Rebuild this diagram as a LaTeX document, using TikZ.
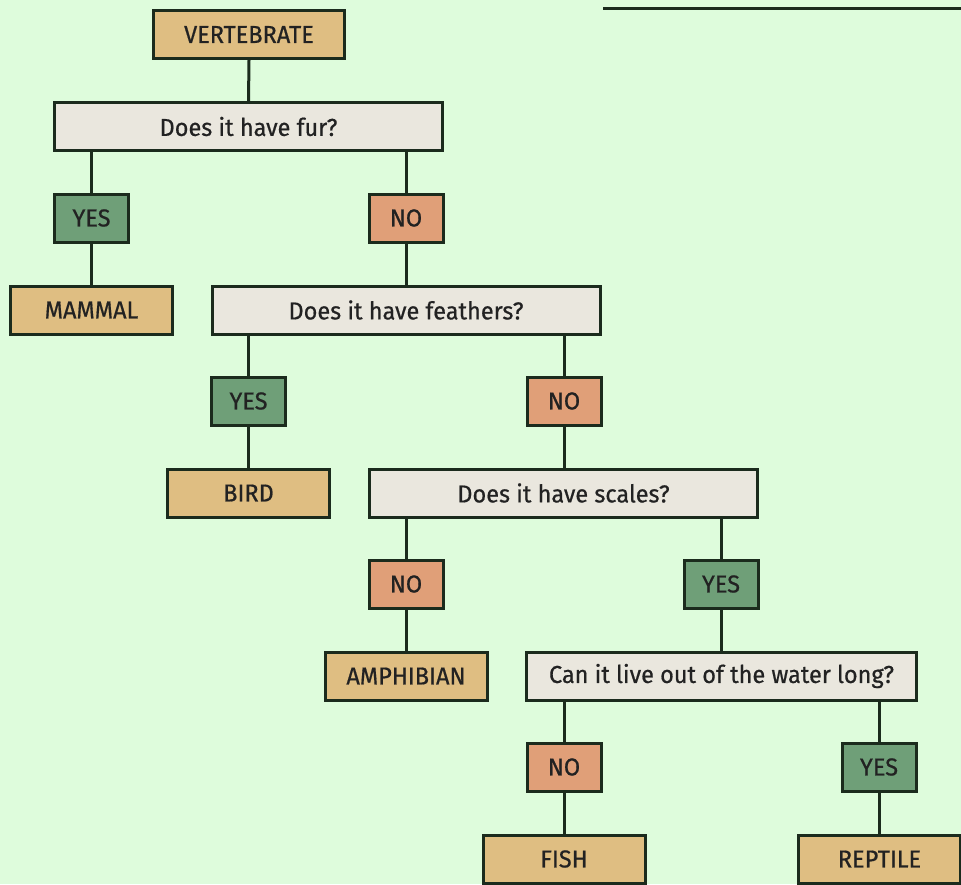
\documentclass[tikz,border=0pt]{standalone}
\usepackage{fontspec}
\setmainfont[FakeStretch=0.96,FakeBold=0.6]{Fira Sans}
\definecolor{bgc}{HTML}{DEFCDC}
\definecolor{tanc}{HTML}{DFBE82}
\definecolor{qc}{HTML}{EAE7DE}
\definecolor{yesc}{HTML}{6F9F78}
\definecolor{noc}{HTML}{E09F78}
\definecolor{edgec}{HTML}{1B2B1D}
\definecolor{txtc}{HTML}{222222}
\begin{document}
\begin{tikzpicture}[x=1pt,y=-1pt,
  box/.style={draw=edgec,line width=3pt,inner sep=0pt,minimum height=48pt,text=txtc,font=\fontsize{24.5}{28}\selectfont},
  leaf/.style={box,fill=tanc,minimum width=162pt},
  ques/.style={box,fill=qc,minimum width=388pt},
  yesbox/.style={box,fill=yesc,minimum width=74pt},
  nobox/.style={box,fill=noc,minimum width=74pt},
  link/.style={draw=edgec,line width=3pt}]
\useasboundingbox (0,0) rectangle (961,884);
\clip (0,0) rectangle (961,884);
\fill[bgc] (0,0) rectangle (961,884);
\coordinate (la) at (603,8);
\coordinate (lb) at (961,8);
\draw[line width=3pt,draw=edgec] (la) -- (lb);
% nodes
\node[leaf,minimum width=191pt] (vert) at (249,34.5) {VERTEBRATE};
\node[ques] (q1) at (248.5,126.5) {Does it have fur?};
\node[yesbox] (y1) at (91.5,218) {YES};
\node[nobox] (n1) at (406,218) {NO};
\node[leaf] (mammal) at (91.5,310) {MAMMAL};
\node[ques] (q2) at (406,310) {Does it have feathers?};
\node[yesbox] (y2) at (248.5,401) {YES};
\node[nobox] (n2) at (564,401) {NO};
\node[leaf] (bird) at (248.5,493) {BIRD};
\node[ques] (q3) at (563.5,493) {Does it have scales?};
\node[nobox] (n3) at (406,584) {NO};
\node[yesbox] (y3) at (721,584) {YES};
\node[leaf] (amph) at (406,676) {AMPHIBIAN};
\node[ques,minimum width=390pt] (q4) at (721.5,676) {Can it live out of the water long?};
\node[nobox] (n4) at (564,767) {NO};
\node[yesbox] (y4) at (879,767) {YES};
\node[leaf] (fish) at (564,859) {FISH};
\node[leaf] (rept) at (879.5,859) {REPTILE};
% connectors
\draw[link] (vert.south) -- (q1.north);
\draw[link] (q1.south -| y1.north) -- (y1.north);
\draw[link] (q1.south -| n1.north) -- (n1.north);
\draw[link] (y1.south) -- (mammal.north);
\draw[link] (n1.south) -- (q2.north);
\draw[link] (q2.south -| y2.north) -- (y2.north);
\draw[link] (q2.south -| n2.north) -- (n2.north);
\draw[link] (y2.south) -- (bird.north);
\draw[link] (n2.south) -- (q3.north -| n2.south);
\draw[link] (q3.south -| n3.north) -- (n3.north);
\draw[link] (q3.south -| y3.north) -- (y3.north);
\draw[link] (n3.south) -- (amph.north);
\draw[link] (y3.south) -- (q4.north -| y3.south);
\draw[link] (q4.south -| n4.north) -- (n4.north);
\draw[link] (q4.south -| y4.north) -- (y4.north);
\draw[link] (n4.south) -- (fish.north);
\draw[link] (y4.south) -- (rept.north -| y4.south);
\end{tikzpicture}
\end{document}
